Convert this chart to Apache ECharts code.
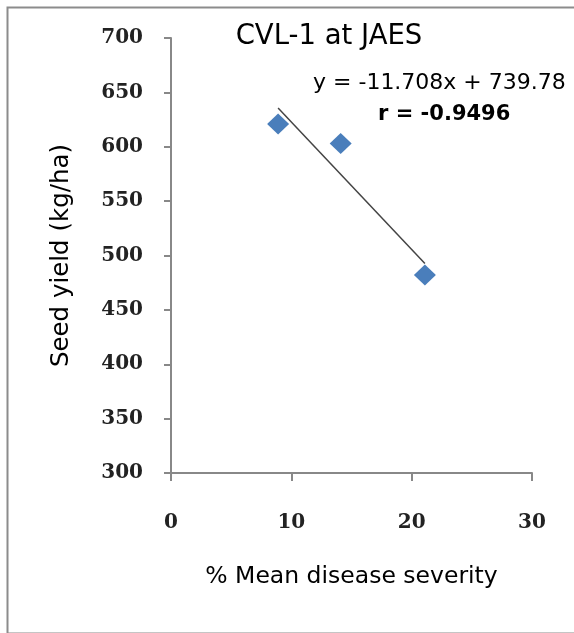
<!DOCTYPE html>
<html>
<head>
<meta charset="utf-8">
<script src="https://cdn.jsdelivr.net/npm/echarts@6/dist/echarts.min.js"></script>
<style>
html,body{margin:0;padding:0;background:#fff;}
#chart{width:574px;height:633px;}
</style>
</head>
<body>
<div id="chart"></div>
<script>
// Data
const diseaseSeverity = [8.9, 14.1, 21.1];
const seedYield = [621, 603, 482];
const trendSlope = -11.708;
const trendIntercept = 739.78;
const correlationR = -0.9496;
const xTicks = [0, 10, 20, 30];
const yTicks = [300, 350, 400, 450, 500, 550, 600, 650, 700];

const points = diseaseSeverity.map((x, i) => [x, seedYield[i]]);
const xMin = Math.min(...diseaseSeverity), xMax = Math.max(...diseaseSeverity);
const trendLine = [xMin, xMax].map(x => [x, trendSlope * x + trendIntercept]);

const chart = echarts.init(document.getElementById('chart'), null, {renderer: 'canvas'});
const tickFont = {fontFamily: 'DejaVu Serif', fontSize: 20, fontWeight: 'bold', color: '#222'};
const sansFont = 'DejaVu Sans';
chart.setOption({
  backgroundColor: '#fff',
  animation: false,
  title: {
    text: 'CVL-1 at JAES',
    left: 329, top: 23, padding: 0, textAlign: 'center',
    textStyle: {fontFamily: sansFont, fontSize: 27.5, fontWeight: 'normal', color: '#000'}
  },
  graphic: [
    {type: 'rect', left: 5, top: 5, shape: {width: 600, height: 626},
     style: {fill: 'none', stroke: '#8c8c8c', lineWidth: 2}, silent: true},
    {type: 'text', left: 313, top: 72,
     style: {text: 'y = ' + trendSlope + 'x + ' + trendIntercept, font: '22px "DejaVu Sans"', fill: '#000'}},
    {type: 'text', left: 378, top: 104,
     style: {text: 'r = ' + correlationR, font: 'bold 21px "DejaVu Sans"', fill: '#000'}}
  ],
  grid: {left: 171, right: 42, top: 38, bottom: 160, containLabel: false},
  xAxis: {
    type: 'value', min: xTicks[0], max: xTicks[xTicks.length - 1], interval: 10,
    name: '% Mean disease severity', nameLocation: 'middle', nameGap: 92,
    nameTextStyle: {fontFamily: sansFont, fontSize: 23.5, color: '#000'},
    axisLine: {show: true, onZero: false, lineStyle: {color: '#888', width: 2}},
    axisTick: {show: true, length: 8, lineStyle: {color: '#888', width: 2}},
    axisLabel: Object.assign({margin: 40}, tickFont),
    splitLine: {show: false}
  },
  yAxis: {
    type: 'value', min: yTicks[0], max: yTicks[yTicks.length - 1], interval: 50,
    name: 'Seed yield (kg/ha)', nameLocation: 'middle', nameGap: 97, nameRotate: 90,
    nameTextStyle: {fontFamily: sansFont, fontSize: 24.5, color: '#000'},
    axisLine: {show: true, onZero: false, lineStyle: {color: '#888', width: 2}},
    axisTick: {show: true, length: 7, lineStyle: {color: '#888', width: 2}},
    axisLabel: Object.assign({margin: 28}, tickFont),
    splitLine: {show: false}
  },
  series: [
    {
      type: 'line', data: trendLine, symbol: 'none',
      lineStyle: {color: '#444', width: 1.5}, z: 2
    },
    {
      type: 'scatter', data: points, symbol: 'diamond', symbolSize: [22, 21],
      itemStyle: {color: '#4A7EBB', opacity: 1}, z: 3
    }
  ]
});
</script>
</body>
</html>
